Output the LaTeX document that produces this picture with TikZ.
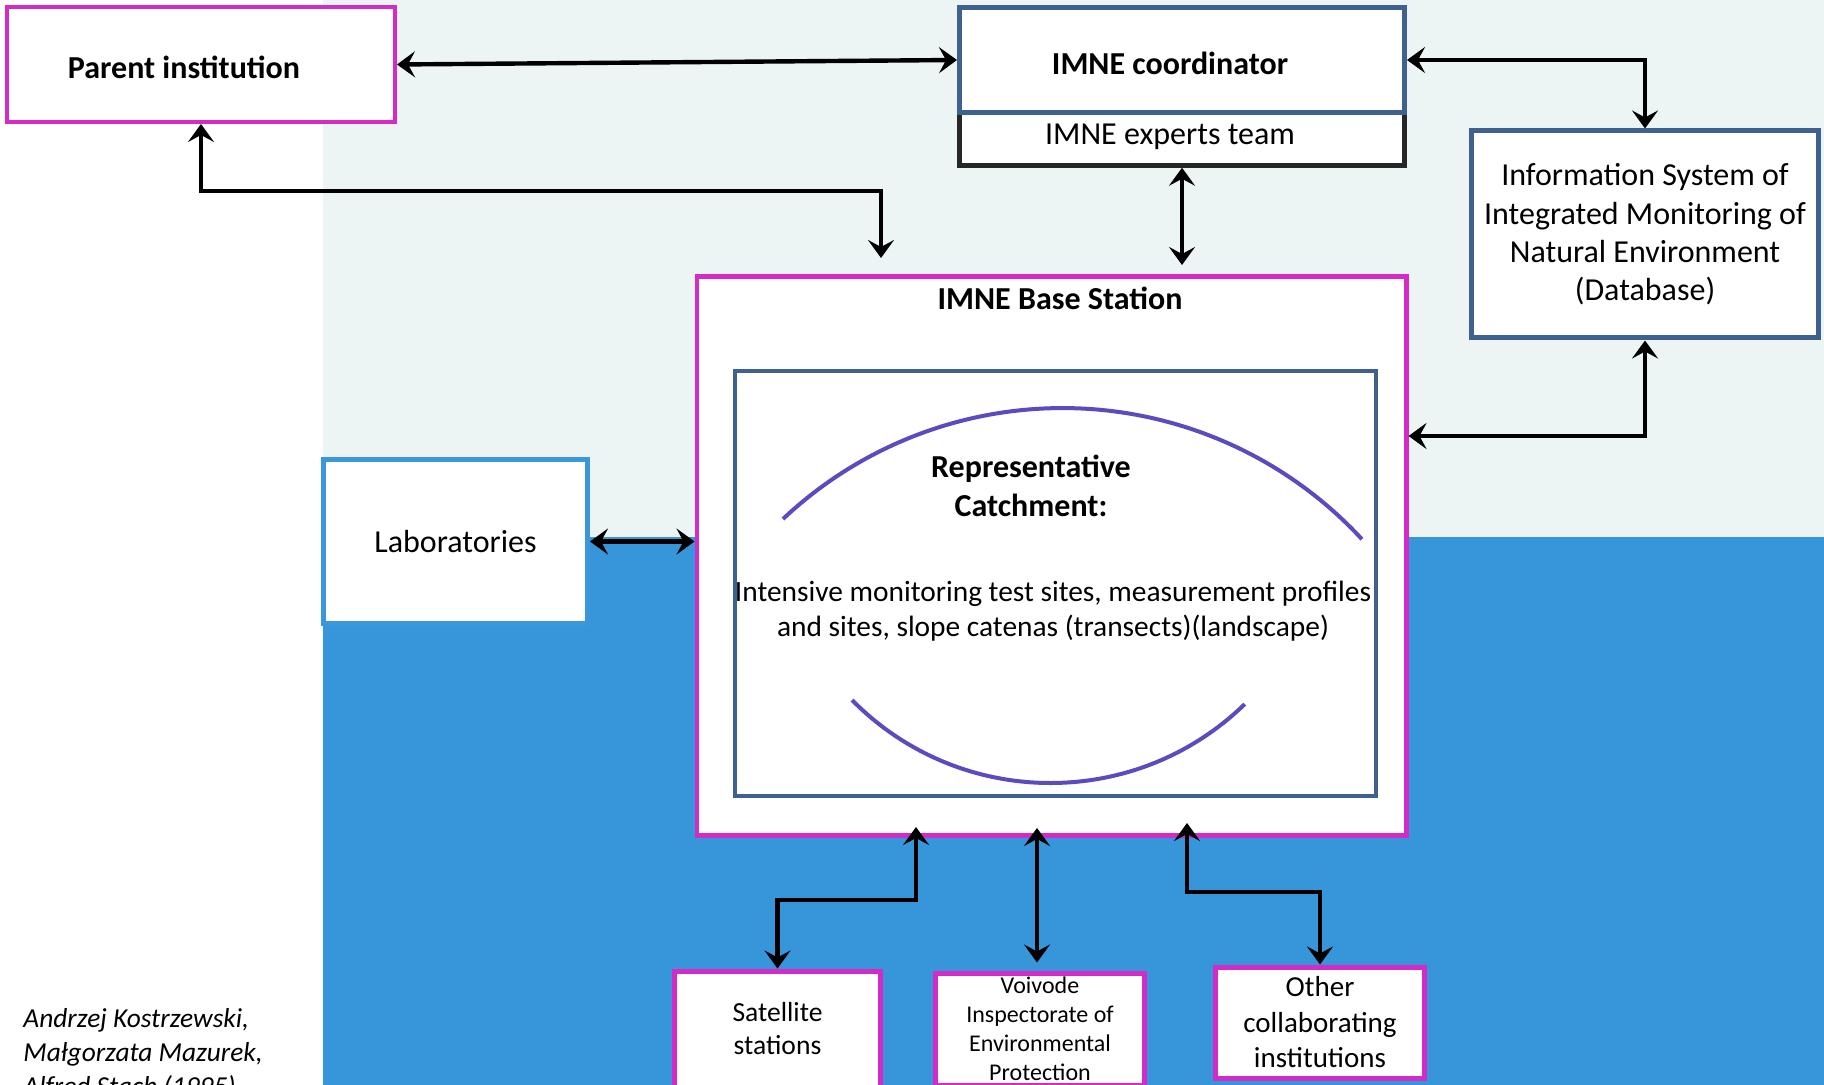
\documentclass[tikz,border=0pt]{standalone}
\usepackage{fontspec}
\setmainfont{Carlito}
\usetikzlibrary{arrows.meta}
\definecolor{magline}{HTML}{D42AC6}
\definecolor{blueline}{HTML}{3E6190}
\definecolor{darkline}{HTML}{262626}
\definecolor{labline}{HTML}{3B97DB}
\definecolor{lightbg}{HTML}{EDF5F4}
\definecolor{bluebg}{HTML}{3796DA}
\definecolor{arcline}{HTML}{5A4CBF}
\begin{document}
\begin{tikzpicture}
    [x=0.5pt, y=-0.5pt,
     pinkbox/.style={draw=magline, fill=white, line width=2pt, inner sep=0pt, align=center},
     bluebox/.style={draw=blueline, fill=white, line width=2.5pt, inner sep=0pt, align=center},
     labbox/.style={draw=labline, fill=white, line width=2.5pt, inner sep=0pt},
     txt/.style={font=\fontsize{16}{19.5}\selectfont},
     btxt/.style={font=\bfseries\fontsize{16}{19.5}\selectfont, align=center},
     link/.style={<->, >={Stealth[length=9pt, width=13pt, inset=3.5pt]}, line width=2.2pt}]
    \useasboundingbox (0,0) rectangle (1824,1085);

    % background
    \fill[lightbg] (323,0) rectangle (1824,537);
    \fill[bluebg] (323,537) rectangle (1824,1085);

    \node[pinkbox, minimum width=194pt, minimum height=57.5pt] (parent) at (201,64.5) {};
    \node[btxt] (parentlbl) at (184,67) {Parent institution};

    \node[draw=darkline, fill=white, line width=2.5pt, minimum width=222.5pt, minimum height=26.25pt] (experts) at (1182,139) {};
    \node[bluebox, minimum width=222.5pt, minimum height=52.5pt] (coord) at (1182,60) {};
    \node[btxt] (coordlbl) at (1170,63) {IMNE coordinator};
    \node[txt] (expertslbl) at (1170,137) {IMNE experts team};

    \node[bluebox, minimum width=173.5pt, minimum height=103.5pt,
          font=\fontsize{16}{19.2}\selectfont] (info) at (1645,234.5)
      {Information System of\\Integrated Monitoring of\\Natural Environment\\(Database)};

    \node[labbox, minimum width=132pt, minimum height=82pt, txt] (lab) at (455.5,541.5) {Laboratories};

    \node[pinkbox, line width=2.2pt, minimum width=354.8pt, minimum height=279.3pt] (base) at (1051.5,556) {};
    \node[btxt] (basettl) at (1060,298) {IMNE Base Station};
    \node[bluebox, line width=2pt, minimum width=320.5pt, minimum height=212.5pt] (catch) at (1055.5,583.5) {};

    % catchment arcs
    \draw[arcline, line width=2pt] (783,519) arc[start angle=226.7, end angle=317.3, radius=407.5];
    \draw[arcline, line width=2pt] (852,700) arc[start angle=135.4, end angle=45.8, radius=278.7];

    \node[btxt] (catchttl) at (1031,485.5) {Representative\\Catchment:};
    \node[align=center, font=\fontsize{14.7}{17.5}\selectfont] (catchtxt) at (1053,611)
      {Intensive monitoring test sites, measurement profiles\\and sites, slope catenas (transects)(landscape)};

    \node[pinkbox, line width=2.5pt, minimum width=103pt, minimum height=58pt,
          font=\fontsize{13.8}{16.5}\selectfont] (sat) at (777.5,1029) {Satellite\\stations};
    \node[pinkbox, line width=2.5pt, minimum width=104.5pt, minimum height=56pt,
          font=\fontsize{12}{14.5}\selectfont] (voi) at (1040,1029)
      {Voivode\\Inspectorate of\\Environmental\\Protection};
    \node[pinkbox, line width=2.5pt, minimum width=104.5pt, minimum height=55.5pt,
          font=\fontsize{14.5}{17.75}\selectfont] (other) at (1320,1022.5)
      {Other\\collaborating\\institutions};

    \node[anchor=north west, align=left, inner sep=0pt,
          font=\itshape\fontsize{13.7}{17}\selectfont] (authors) at (23,1008.5)
      {Andrzej Kostrzewski,\\Małgorzata Mazurek,\\Alfred Stach (1995)};

    % free ends of the arrows
    \coordinate (basein) at (881,258);
    \coordinate (expin) at (1182,265);
    \coordinate (satin) at (916,827);
    \coordinate (voiin) at (1037,828);
    \coordinate (othin) at (1187,823);

    \draw[link] (parent.east) -- (coord.west);
    \draw[link] (coord.east) -| (info.north);
    \draw[link] (info.south) |- (base.east |- 0,436);
    \draw[link] (lab.east) -- (base.west |- lab.east);
    \draw[link] (parent.south) -- ++(0,67) -| (basein);
    \draw[link] (experts.south) -- (expin);
    \draw[link] (satin) -- ++(0,73) -| (sat.north);
    \draw[link, shorten >=4pt] (voiin) -- (voiin |- voi.north);
    \draw[link] (othin) -- ++(0,69) -| (other.north);
\end{tikzpicture}
\end{document}
